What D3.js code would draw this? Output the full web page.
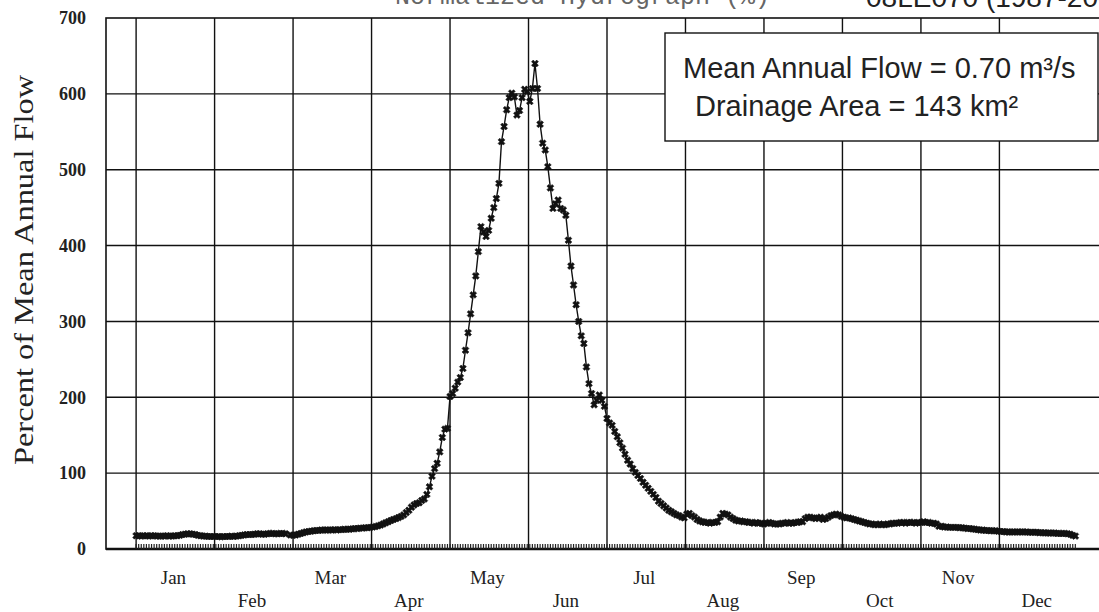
<!DOCTYPE html>
<html>
<head>
<meta charset="utf-8">
<script src="https://cdn.jsdelivr.net/npm/d3@7"></script>
<style>
  body { margin: 0; background: #fff; }
  svg { display: block; }
</style>
</head>
<body>
<svg id="chart" width="1099" height="612"></svg>
<script>
// ---- data ----
const months = ['Jan', 'Feb', 'Mar', 'Apr', 'May', 'Jun', 'Jul', 'Aug', 'Sep', 'Oct', 'Nov', 'Dec'];
const yTicks = [0, 100, 200, 300, 400, 500, 600, 700];
const titleText = 'Normalized Hydrograph (%)';
const stationText = '08LE070 (1987-2005)';
const infoLines = ['Mean Annual Flow = 0.70 m\u00B3/s', 'Drainage Area = 143 km\u00B2'];

// daily % of mean annual flow, 366 day slots (Feb 29 = null)
const dailyFlow = [
  17.5, 17.5, 17, 17.5, 17.5, 17, 17.5, 17.5, 17, 17,
  17, 17, 17.5, 17, 17, 17.5, 17.5, 18, 19, 19.5,
  20, 20, 19.5, 19, 18, 17.5, 17, 17, 16.5, 16.5,
  16.5, 16.5, 16.5, 16, 16.5, 16.5, 16.5, 17, 16.5, 17,
  17.5, 18, 18.5, 19, 19, 19, 19.5, 20, 20, 19.5,
  19.5, 20, 20.5, 20.5, 20, 20, 20.5, 20.5, 20, null,
  18.5, 18, 18.5, 19.5, 20.5, 21.5, 22.5, 23, 23.5, 24,
  24.5, 24.5, 25, 25, 25, 25, 25, 25.5, 25, 25.5,
  25.5, 26, 26, 26, 26.5, 27, 27, 27.5, 27.5, 28,
  28, 28.5, 29, 29.5, 30.5, 31.5, 33, 34.5, 36, 37.5,
  39, 40, 41.5, 43, 45, 48, 51, 55, 58, 60,
  61, 64, 66, 72, 82, 96, 106, 113, 128, 147,
  158, 159, 201, 205, 212, 220, 226, 238, 262, 285,
  310, 335, 360, 392, 425, 418, 412, 420, 436, 450,
  462, 482, 537, 557, 579, 595, 601, 596, 572, 578,
  595, 606, 603, 590, 607, 640, 607, 560, 535, 526,
  504, 476, 449, 455, 460, 449, 447, 440, 407, 373,
  348, 322, 300, 281, 271, 240, 218, 205, 190, 196,
  203, 196, 188, 172, 166, 163, 155, 148, 140, 133,
  125, 117, 112, 106, 101, 97, 93, 88, 84, 80,
  76, 72, 68, 63, 60, 57, 54, 51, 49, 47,
  45, 44, 42, 41, 46, 47, 44, 42, 39, 37,
  36, 35, 35, 34, 35, 35, 36, 42, 47, 46,
  45, 42, 40, 38, 37, 37, 36, 36, 35, 35,
  34, 35, 34, 34, 33, 34, 35, 34, 33, 33,
  33, 34, 34, 35, 34, 34, 35, 35, 36, 36,
  40, 42, 42, 41, 40, 41, 42, 39, 40, 42,
  44, 45, 46, 45, 43, 42, 41, 41, 40, 39,
  38, 37, 36, 35, 34, 33, 33, 32, 32, 33,
  32, 32, 33, 33, 34, 34, 34, 35, 35, 34,
  35, 35, 35, 34, 35, 35, 36, 35, 35, 34,
  34, 33, 30, 30, 29, 29, 28.5, 28.5, 28.5, 28.5,
  28, 28, 27.5, 27, 27, 26.5, 26, 25.5, 25, 25,
  24.5, 24.5, 24, 24, 24, 23.5, 23, 23, 22.5, 22.5,
  22.5, 22.5, 22.5, 22.5, 22.5, 22.5, 22.5, 22, 22, 22,
  22, 21.5, 21.5, 21.5, 21, 21, 21, 21, 20.5, 20.5,
  20.5, 20.5, 20, 19.5, 18, 17
];

const svg = d3.select('#chart');
const ink = '#111';

// days per month slot on the axis (366 / 12)
const monthSpan = 30.5;

const x = d3.scaleLinear().domain([-11.7, 377.7]).range([106, 1108]);
const y = d3.scaleLinear().domain([0, 700]).range([549, 18]);

// --- title (clipped at top of frame, as in the scan) ---
svg.append('text')
  .attr('x', 395).attr('y', 4)
  .style('font-family', '"Liberation Mono", "DejaVu Sans Mono", monospace')
  .style('font-size', '25px')
  .style('fill', '#666')
  .text(titleText);

svg.append('text')
  .attr('x', 866).attr('y', 7)
  .style('font-family', '"Liberation Sans", Arial, sans-serif')
  .style('font-size', '28px')
  .style('fill', '#222')
  .text(stationText);

// --- grid ---
const grid = svg.append('g').attr('stroke', ink).attr('stroke-width', 1.4);

grid.selectAll('.hgrid')
  .data(yTicks.filter(t => t > 0 && t < 700))
  .enter().append('line')
  .attr('x1', x.range()[0]).attr('x2', x.range()[1])
  .attr('y1', d => y(d)).attr('y2', d => y(d));

grid.selectAll('.vgrid')
  .data(d3.range(12).map(k => k * monthSpan))
  .enter().append('line')
  .attr('x1', d => x(d)).attr('x2', d => x(d))
  .attr('y1', y(700)).attr('y2', y(0));

// plot frame
svg.append('rect')
  .attr('x', x.range()[0]).attr('y', y(700))
  .attr('width', x.range()[1] - x.range()[0])
  .attr('height', y(0) - y(700))
  .attr('fill', 'none')
  .attr('stroke', ink)
  .attr('stroke-width', 1.6);

// bottom axis: heavy base line with a tick for every day
svg.append('line')
  .attr('x1', x.range()[0]).attr('x2', x.range()[1])
  .attr('y1', y(0)).attr('y2', y(0))
  .attr('stroke', ink).attr('stroke-width', 2.4);

svg.append('g')
  .selectAll('line')
  .data(d3.range(dailyFlow.length))
  .enter().append('line')
  .attr('x1', d => x(d)).attr('x2', d => x(d))
  .attr('y1', y(0)).attr('y2', y(0) - 5)
  .attr('stroke', '#222').attr('stroke-width', 1.2);

// --- y tick labels ---
svg.append('g')
  .selectAll('text')
  .data(yTicks)
  .enter().append('text')
  .attr('x', 86)
  .attr('y', d => y(d))
  .attr('dy', '0.35em')
  .attr('text-anchor', 'end')
  .style('font-family', '"Liberation Serif", "Times New Roman", serif')
  .style('font-weight', 'bold')
  .style('font-size', '18px')
  .style('fill', '#222')
  .text(d => d);

// y axis title
svg.append('text')
  .attr('transform', 'translate(33,270) rotate(-90)')
  .attr('text-anchor', 'middle')
  .attr('textLength', 390)
  .attr('lengthAdjust', 'spacingAndGlyphs')
  .style('font-family', '"Liberation Serif", "Times New Roman", serif')
  .style('font-size', '27px')
  .style('fill', '#222')
  .text('Percent of Mean Annual Flow');

// --- month labels, staggered on two rows ---
svg.append('g')
  .selectAll('text')
  .data(months)
  .enter().append('text')
  .attr('x', (d, i) => x(14.5 + i * monthSpan))
  .attr('y', (d, i) => i % 2 === 0 ? 584 : 607)
  .attr('text-anchor', 'middle')
  .style('font-family', '"Liberation Serif", "Times New Roman", serif')
  .style('font-size', '19px')
  .style('fill', '#222')
  .text(d => d);

// --- hydrograph line + markers ---
const line = d3.line()
  .defined(d => d != null)
  .x((d, i) => x(i))
  .y(d => y(d));

svg.append('path')
  .datum(dailyFlow)
  .attr('d', line)
  .attr('fill', 'none')
  .attr('stroke', ink)
  .attr('stroke-width', 1.4);

const marker = d3.symbol().type(d3.symbolCross).size(30);

svg.append('g')
  .selectAll('path')
  .data(dailyFlow.map((v, i) => ({ i, v })).filter(d => d.v != null))
  .enter().append('path')
  .attr('d', marker)
  .attr('transform', d => `translate(${x(d.i)},${y(d.v)}) rotate(45)`)
  .attr('fill', ink)
  .attr('stroke', ink)
  .attr('stroke-width', 0.5);

// --- info box ---
svg.append('rect')
  .attr('x', 665).attr('y', 33)
  .attr('width', 433).attr('height', 108)
  .attr('fill', '#fff')
  .attr('stroke', ink)
  .attr('stroke-width', 1.4);

svg.append('g')
  .selectAll('text')
  .data(infoLines)
  .enter().append('text')
  .attr('x', (d, i) => i === 0 ? 683 : 695)
  .attr('y', (d, i) => i === 0 ? 78 : 116)
  .style('font-family', '"Liberation Sans", Arial, sans-serif')
  .style('font-size', '29px')
  .style('fill', '#222')
  .text(d => d);
</script>
</body>
</html>
